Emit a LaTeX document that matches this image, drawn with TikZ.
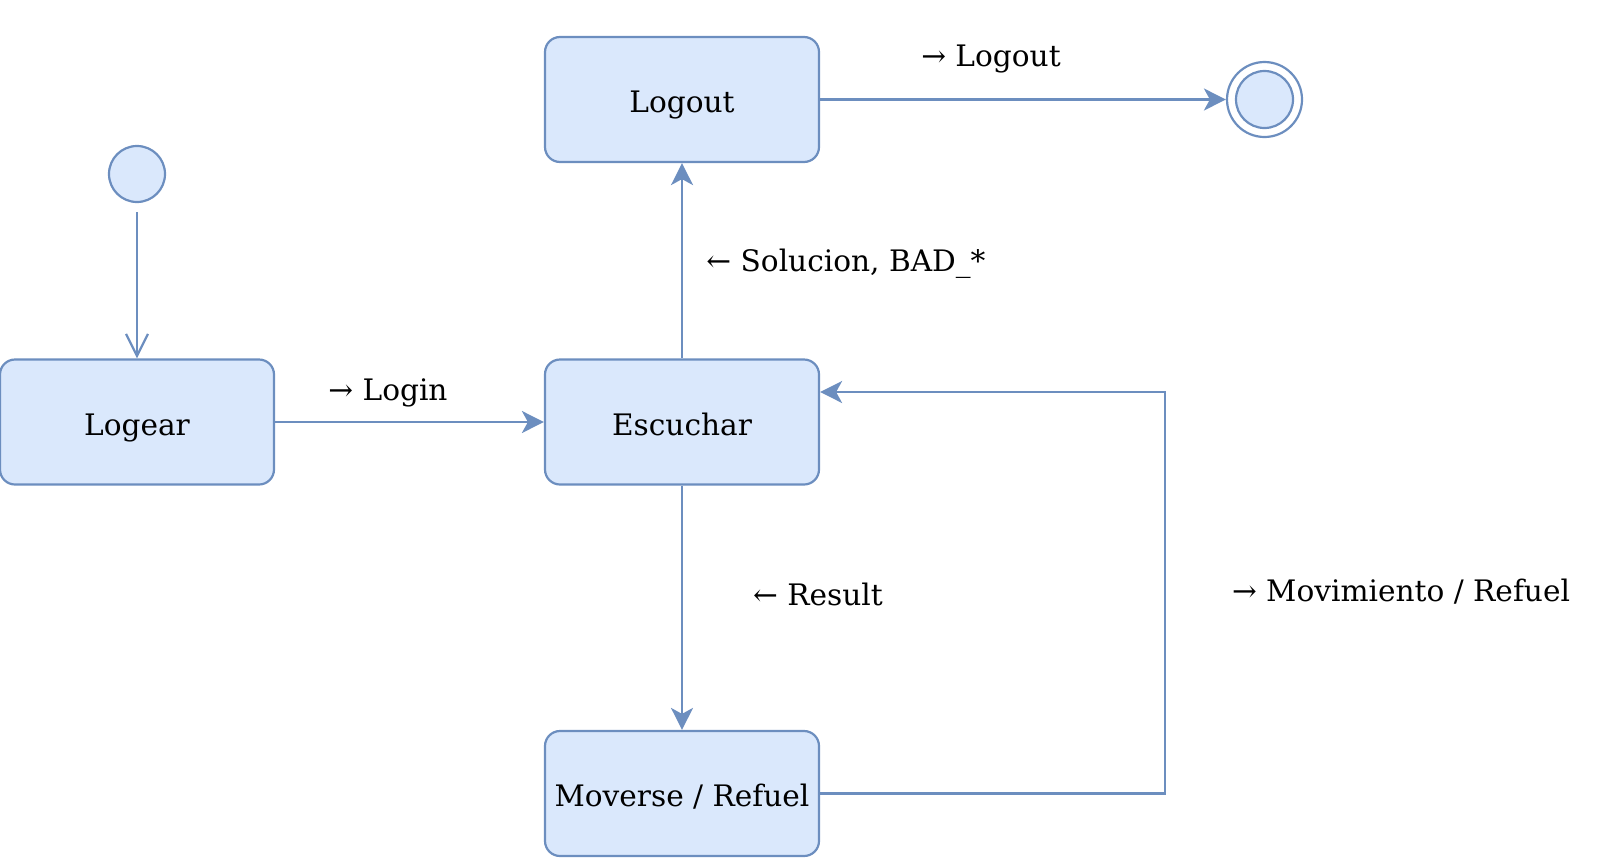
\documentclass[tikz,border=0pt]{standalone}
\usepackage{fontspec}
\setmainfont{DejaVu Serif}
\usetikzlibrary{arrows.meta}
\definecolor{boxfill}{HTML}{DAE8FC}
\definecolor{boxline}{HTML}{6C8EBF}
\begin{document}
\begin{tikzpicture}[x=0.5pt,y=-0.5pt,
  font=\fontsize{14.8pt}{17pt}\selectfont,
  state/.style={draw=boxline,fill=boxfill,line width=1.1pt,rounded corners=7.5pt,
    minimum width=137pt,minimum height=62.5pt,inner sep=0pt,align=center,
    text height=13pt,text depth=0pt},
  dot/.style={circle,draw=boxline,fill=boxfill,line width=1.1pt,inner sep=0pt},
  conn/.style={draw=boxline,line width=1.1pt,-{Stealth[length=11pt,width=11pt,inset=3pt]}},
  openconn/.style={draw=boxline,line width=1.1pt,-{Straight Barb[length=11pt,width=11pt]}},
  lbl/.style={inner sep=0pt,anchor=center}]
\useasboundingbox (0,0) rectangle (1600,857);
\node[state] (logout) at (682,99.5) {Logout};
\node[state] (escuchar) at (682,422) {Escuchar};
\node[state] (logear) at (137,422) {Logear};
\node[state] (mover) at (682,793.5) {Moverse / Refuel};
\node[dot,minimum size=28pt] (init) at (137,174) {};
\coordinate (initout) at (137,212);
\node[dot,fill=none,minimum size=37.5pt] (final) at (1264.5,99.5) {};
\node[dot,minimum size=28.5pt] (finalin) at (1264.5,99.5) {};
\coordinate (bend1) at (1165,793.5);
\coordinate (bend2) at (1165,392);
\coordinate (escin) at (escuchar.east |- bend2);

\draw[openconn] (initout) -- (logear.north);
\draw[conn] (logear.east) -- (escuchar.west);
\draw[conn] (escuchar.north) -- (logout.south);
\draw[conn] (logout.east) -- (final.west);
\draw[conn] (escuchar.south) -- (mover.north);
\draw[conn] (mover.east) -- (bend1) -- (bend2) -- (escin);

\node[lbl] (l1) at (991,59) {→ Logout};
\node[lbl] (l2) at (388,393) {→ Login};
\node[lbl] (l3) at (846,264) {← Solucion, BAD\_*};
\node[lbl] (l4) at (818,594) {← Result};
\node[lbl] (l5) at (1401,592) {→ Movimiento / Refuel};
\end{tikzpicture}
\end{document}
